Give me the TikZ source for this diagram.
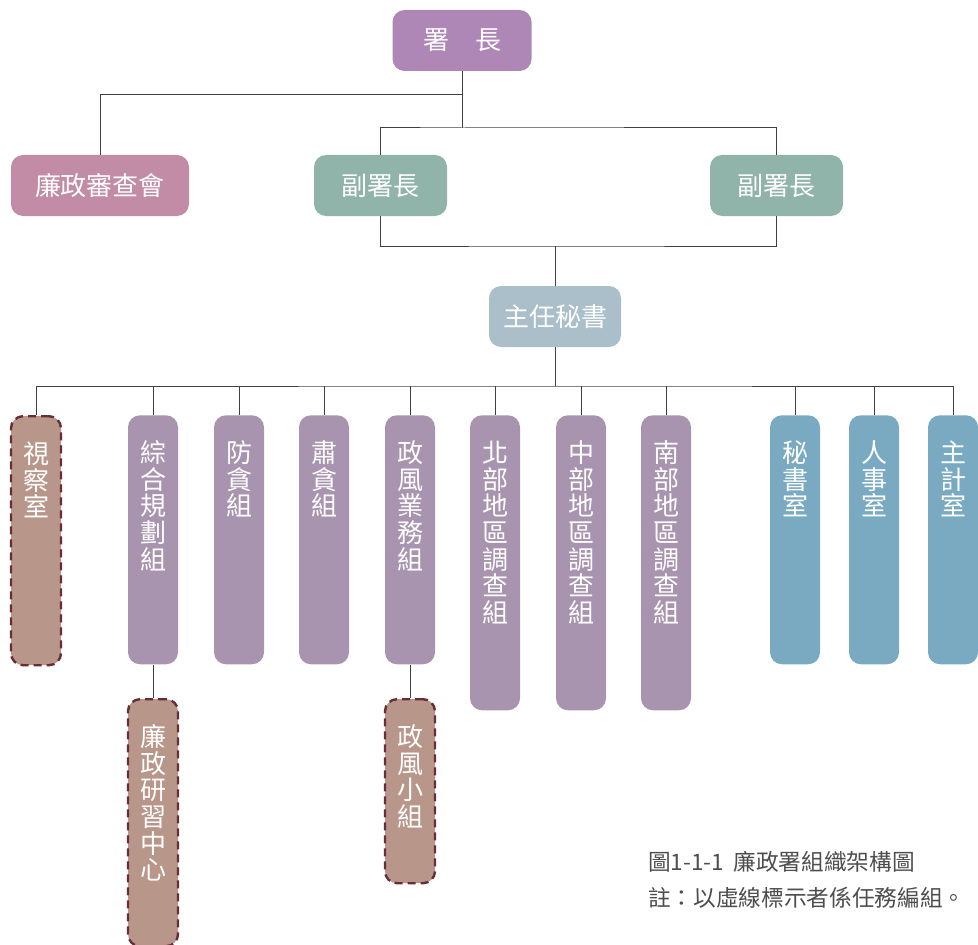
\documentclass[tikz,border=0pt]{standalone}
\usepackage{fontspec}
\setmainfont{Noto Sans CJK TC}
\definecolor{headpurple}{HTML}{AE87B7}
\definecolor{boardpink}{HTML}{C28CA6}
\definecolor{deputygreen}{HTML}{90B3AA}
\definecolor{secgrey}{HTML}{AABFC9}
\definecolor{unitpurple}{HTML}{A994AF}
\definecolor{staffblue}{HTML}{79AAC2}
\definecolor{taskbrown}{HTML}{B8968A}
\definecolor{taskedge}{HTML}{6A2C36}
\definecolor{notegrey}{HTML}{4D4D4D}
% vertical text, first line as baseline, fixed line pitch
\newcommand{\vstack}[1]{\vtop{\baselineskip=20pt\lineskiplimit=-100pt\lineskip=0pt\let\\\cr
    \halign{\hfil##\hfil\cr#1\crcr}}}
\tikzset{
  topbox/.style={rounded corners=9pt, text=white, minimum height=45.75pt, font=\fontsize{19.5}{20}\selectfont},
  colbox/.style={rounded corners=9pt, text=white, anchor=north, minimum width=37.5pt, inner sep=0pt, text height=35.5pt, font=\fontsize{19.5}{20}\selectfont},
  taskbox/.style={colbox, fill=taskbrown, draw=taskedge, line width=1.8pt, dash pattern=on 6pt off 3.75pt},
  link/.style={draw=black!75, line width=0.75pt},
  notetext/.style={anchor=west, inner sep=0pt, text=notegrey, font=\fontsize{17}{18}\selectfont},
}
\begin{document}
\begin{tikzpicture}[x=0.75pt, y=-0.75pt]
    \useasboundingbox (0,0) rectangle (978,945);

    % upper levels
    \node[topbox, fill=headpurple, minimum width=104.25pt] (chief) at (462,40.5) {署　長};
    \node[topbox, fill=boardpink, minimum width=133.5pt] (board) at (100,185.5) {廉政審查會};
    \node[topbox, fill=deputygreen, minimum width=99.75pt] (deputyL) at (380.5,185.5) {副署長};
    \node[topbox, fill=deputygreen, minimum width=99.75pt] (deputyR) at (776.5,185.5) {副署長};
    \node[topbox, fill=secgrey, minimum width=99pt] (secgen) at (555,316.5) {主任秘書};

    % units
    \node[taskbox, text depth=151.25pt] (inspect) at (36,415) {\vstack{視\\察\\室}};
    \node[colbox, fill=unitpurple, text depth=151.25pt] (plan) at (153,415) {\vstack{綜\\合\\規\\劃\\組}};
    \node[colbox, fill=unitpurple, text depth=151.25pt] (antigraft) at (239,415) {\vstack{防\\貪\\組}};
    \node[colbox, fill=unitpurple, text depth=151.25pt] (anticorrupt) at (324,415) {\vstack{肅\\貪\\組}};
    \node[colbox, fill=unitpurple, text depth=151.25pt] (ethicsops) at (410,415) {\vstack{政\\風\\業\\務\\組}};
    \node[colbox, fill=unitpurple, text depth=185.75pt] (northgrp) at (495,415) {\vstack{北\\部\\地\\區\\調\\查\\組}};
    \node[colbox, fill=unitpurple, text depth=185.75pt] (centralgrp) at (581,415) {\vstack{中\\部\\地\\區\\調\\查\\組}};
    \node[colbox, fill=unitpurple, text depth=185.75pt] (southgrp) at (666,415) {\vstack{南\\部\\地\\區\\調\\查\\組}};
    \node[colbox, fill=staffblue, text depth=151.25pt] (secretariat) at (795,415) {\vstack{秘\\書\\室}};
    \node[colbox, fill=staffblue, text depth=151.25pt] (personnel) at (874,415) {\vstack{人\\事\\室}};
    \node[colbox, fill=staffblue, text depth=151.25pt] (accounting) at (953,415) {\vstack{主\\計\\室}};

    % task groups below
    \node[taskbox, text depth=149.75pt] (training) at (153,698) {\vstack{廉\\政\\研\\習\\中\\心}};
    \node[taskbox, text depth=102.5pt] (team) at (410,698) {\vstack{政\\風\\小\\組}};

    % connectors
    \coordinate (j1) at (462,95);
    \coordinate (j2) at (462,128);
    \coordinate (j3) at (555,246);
    \coordinate (j4) at (555,386);
    \draw[link] (chief.south) -- (j1) -| (board.north);
    \draw[link] (j1) -- (j2);
    \draw[link] (deputyL.north) |- (j2) -| (deputyR.north);
    \draw[link] (deputyL.south) |- (j3) -| (deputyR.south);
    \draw[link] (j3) -- (secgen.north);
    \draw[link] (secgen.south) -- (j4);
    \draw[link] (inspect.north) |- (j4) -| (accounting.north);
    \foreach \u in {plan,antigraft,anticorrupt,ethicsops,northgrp,centralgrp,southgrp,secretariat,personnel}
        \draw[link] (\u.north) -- ++(0,-29);
    \draw[link] (plan.south) -- (training.north);
    \draw[link] (ethicsops.south) -- (team.north);

    % caption
    \node[notetext] (caption) at (648,862) {圖1-1-1\hspace{0.4em}廉政署組織架構圖};
    \node[notetext] (note) at (648,898) {註：以虛線標示者係任務編組。};
\end{tikzpicture}
\end{document}
